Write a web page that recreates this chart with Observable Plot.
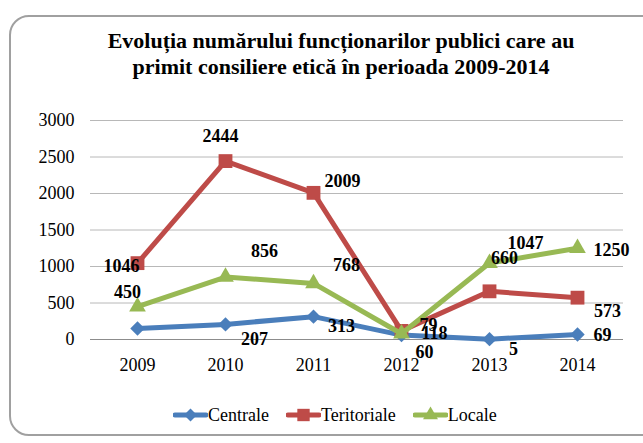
<!DOCTYPE html>
<html>
<head>
<meta charset="utf-8">
<script src="https://cdn.jsdelivr.net/npm/d3@7"></script>
<script src="https://cdn.jsdelivr.net/npm/@observablehq/plot@0.6"></script>
<style>
  html, body { margin: 0; padding: 0; background: #fff; }
  #wrap { position: relative; width: 643px; height: 443px; overflow: hidden; font-family: "Liberation Serif", "DejaVu Serif", serif; }
  #frame { position: absolute; left: 9px; top: 15px; width: 700px; height: 421px; border: 2px solid #a0a0a0; border-radius: 20px; box-sizing: border-box; }
  #title { position: absolute; top: 28px; left: 0; width: 682px; text-align: center; font-family: "Liberation Serif", serif; font-weight: bold; font-size: 22px; line-height: 26px; color: #000; }
  #chart { position: absolute; top: 100px; left: 0; }
  #legend { position: absolute; top: 403px; left: 173px; display: flex; align-items: center; font-family: "Liberation Serif", serif; font-size: 18px; height: 24px; color: #000; }
  #legend .item { display: flex; align-items: center; }
  #legend svg { display: block; }
</style>
</head>
<body>
<div id="wrap">
  <div id="frame"></div>
  <div id="title">Evoluția numărului funcționarilor publici care au<br>primit consiliere etică în perioada 2009-2014</div>
  <div id="chart"></div>
  <div id="legend"></div>
</div>
<script>
// ---- data ----
const years = ["2009", "2010", "2011", "2012", "2013", "2014"];
const seriesNames = ["Centrale", "Teritoriale", "Locale"];
const centrale = [150, 207, 313, 60, 5, 69];
const teritoriale = [1046, 2444, 2009, 118, 660, 573];
const locale = [450, 856, 768, 79, 1047, 1250];
const yTicks = [0, 500, 1000, 1500, 2000, 2500, 3000];
const showLabel = [
  [false, true, true, true, true, true],
  [true, true, true, true, true, true],
  [true, true, true, true, true, true]
];

// ---- style ----
const colors = ["#4A7EBB", "#BE4B48", "#98B954"];
const symbols = ["diamond2", "square", "triangle"];
const radii = [6.5, 7.8, 6.2];
const labelOffsets = [
  [null, [29, 15], [28, 10], [23, 17], [24, 10], [25, 1]],
  [[-16, 3], [-5, -25], [29, -12], [33, 2], [15, -33], [30, 14]],
  [[-10, -14], [39, -26], [33, -18], [27, -8], [36, -20], [34, 2]]
];

const allValues = [centrale, teritoriale, locale];
const tables = allValues.map((vals, s) =>
  years.map((year, i) => ({ year, value: vals[i], series: seriesNames[s], i, s }))
);

const marks = [
  Plot.ruleY(yTicks.filter(d => d > 0), { stroke: "#b8b8b8", strokeWidth: 1 }),
  Plot.ruleY([0], { stroke: "#8c8c8c", strokeWidth: 1 }),
  Plot.axisY({ ticks: yTicks, tickFormat: d => String(d), tickSize: 0, tickPadding: 16, fontSize: 18, fill: "#000", label: null }),
  Plot.axisX({ tickSize: 0, tickPadding: 19, fontSize: 18, fill: "#000", label: null })
];

tables.forEach((rows, s) => {
  marks.push(Plot.line(rows, { x: "year", y: "value", stroke: colors[s], strokeWidth: 5, strokeLinejoin: "round", strokeLinecap: "round" }));
  marks.push(Plot.dot(rows, { x: "year", y: "value", symbol: symbols[s], fill: colors[s], stroke: "none", r: radii[s] }));
});

tables.forEach((rows, s) => {
  rows.forEach((row, i) => {
    if (!showLabel[s][i]) return;
    const [dx, dy] = labelOffsets[s][i];
    marks.push(Plot.text([row], {
      x: "year", y: "value", text: d => String(d.value),
      dx, dy, fontSize: 18, fontWeight: "bold", fill: "#000"
    }));
  });
});

const chart = Plot.plot({
  width: 643,
  height: 300,
  marginTop: 20,
  marginBottom: 61,
  marginLeft: 90,
  marginRight: 20,
  x: { type: "point", domain: years, padding: 0.5 },
  y: { domain: [0, 3000] },
  style: { fontFamily: "Liberation Serif", fontSize: "18px", background: "transparent", color: "#000" },
  marks
});
document.getElementById("chart").appendChild(chart);

// ---- legend ----
const legend = d3.select("#legend");
seriesNames.forEach((name, s) => {
  const item = legend.append("div").attr("class", "item").style("margin-right", s === 2 ? "0px" : "17px");
  const svg = item.append("svg").attr("width", 35).attr("height", 20);
  svg.append("line").attr("x1", 2).attr("x2", 33).attr("y1", 10).attr("y2", 10)
    .attr("stroke", colors[s]).attr("stroke-width", 5).attr("stroke-linecap", "round");
  const symType = [d3.symbolDiamond2, d3.symbolSquare, d3.symbolTriangle][s];
  svg.append("path").attr("transform", "translate(17.5,10)")
    .attr("d", d3.symbol(symType, Math.PI * radii[s] * radii[s] * 0.8)())
    .attr("fill", colors[s]);
  item.append("span").text(name);
});
</script>
</body>
</html>
